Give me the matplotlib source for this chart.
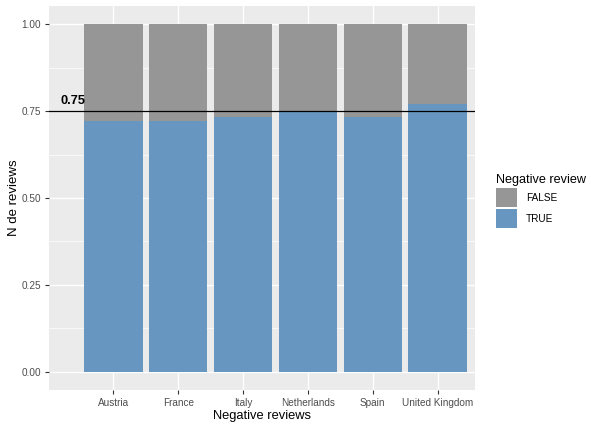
import numpy as np
import matplotlib
matplotlib.use("Agg")
import matplotlib.pyplot as plt
from matplotlib.patches import Patch

plt.rcParams['font.family'] = ['Liberation Sans', 'DejaVu Sans']

# data
countries = ["Austria", "France", "Italy", "Netherlands", "Spain", "United Kingdom"]
true_share = [0.721, 0.721, 0.733, 0.749, 0.734, 0.770]
false_share = [1 - v for v in true_share]
threshold = 0.75
y_ticks = [0.00, 0.25, 0.50, 0.75, 1.00]

col_false = "#969696"
col_true = "#6797C1"

fig = plt.figure(figsize=(6.0, 4.29), dpi=100)
ax = fig.add_axes([0.081, 0.091, 0.711, 0.895])
ax.set_facecolor("#EBEBEB")

x = np.arange(len(countries))
ax.bar(x, true_share, width=0.9, color=col_true, zorder=3)
ax.bar(x, false_share, bottom=true_share, width=0.9, color=col_false, zorder=3)

ax.axhline(threshold, color="black", lw=0.9, zorder=4)
ax.text(-0.63, threshold + 0.012, "0.75", ha="center", va="bottom",
        fontsize=9.3, fontweight="bold", zorder=5)

ax.set_xlim(-1.0, 5.58)
ax.set_ylim(-0.052, 1.052)
ax.set_xticks(x)
ax.set_xticklabels(countries)
ax.set_yticks(y_ticks)
ax.set_yticklabels([f"{v:.2f}" for v in y_ticks])
ax.set_yticks(np.arange(0.125, 1.0, 0.25), minor=True)

ax.grid(which="major", color="white", lw=1.0, zorder=0)
ax.grid(which="minor", axis="y", color="white", lw=0.5, zorder=0)
ax.set_axisbelow(True)
for s in ax.spines.values():
    s.set_visible(False)
ax.tick_params(which="major", colors="#333333", labelcolor="#4D4D4D",
               labelsize=7.2, length=3, width=0.8, pad=2.5)
ax.tick_params(which="minor", length=0)

ax.set_xlabel("Negative reviews", fontsize=9.3, labelpad=2)
ax.set_ylabel("N de reviews", fontsize=9.5, labelpad=1)

handles = [Patch(facecolor=col_false, label="FALSE"),
           Patch(facecolor=col_true, label="TRUE")]
fig.legend(handles=handles, title="Negative review", loc="upper left",
           bbox_to_anchor=(0.823, 0.598), frameon=False, fontsize=7.2,
           title_fontsize=9.1, handlelength=2.1, handleheight=2.5,
           handletextpad=0.9, labelspacing=0.2, alignment="left",
           borderpad=0.2, borderaxespad=0)

fig.savefig("out.png", dpi=100)
